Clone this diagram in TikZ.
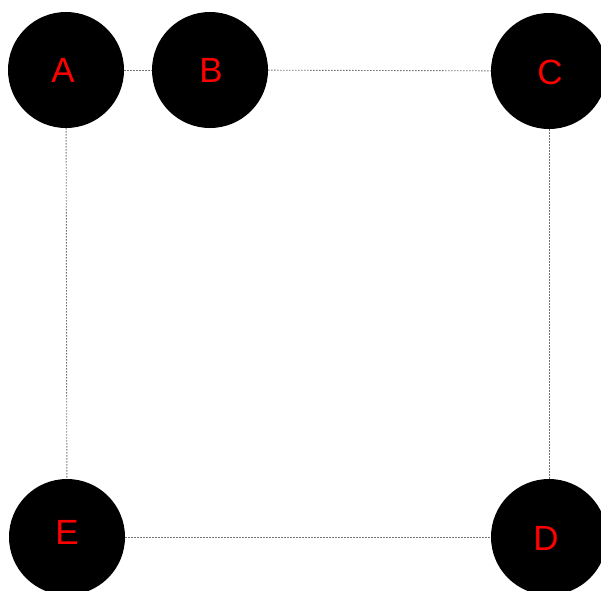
\documentclass[tikz,border=0pt]{standalone}
\usepackage{fontspec}
\setmainfont{Liberation Sans}
\usetikzlibrary{backgrounds}
\begin{document}
\begin{tikzpicture}[x=1pt,y=-1pt,
  ball/.style={circle,fill=black,draw=none,minimum size=116pt,inner sep=0pt},
  lbl/.style={text=red,font=\fontsize{35}{40}\selectfont,inner sep=0pt},
  link/.style={draw=gray!90!black,line width=0.9pt,dash pattern=on 1.5pt off 1.5pt}]
\useasboundingbox (0,0) rectangle (601,590);
\node[ball,label={[lbl,shift={(-3pt,0pt)}]center:A}] (A) at (66,70) {};
\node[ball,label={[lbl,shift={(1pt,0pt)}]center:B}] (B) at (210,70) {};
\node[ball,label={[lbl,shift={(1pt,-1pt)}]center:C}] (C) at (549,71) {};
\node[ball,label={[lbl,shift={(-3pt,-1pt)}]center:D}] (D) at (549,537) {};
\node[ball,label={[lbl,shift={(0pt,5pt)}]center:E}] (E) at (67,537) {};
\begin{scope}[on background layer]
\draw[link] (A) -- (B);
\draw[link] (B) -- (C);
\draw[link] (A) -- (E);
\draw[link] (C) -- (D);
\draw[link] (E) -- (D);
\end{scope}
\end{tikzpicture}
\end{document}
